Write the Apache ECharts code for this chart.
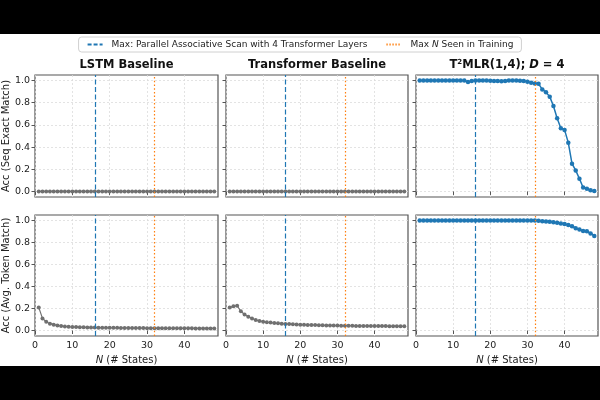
<!DOCTYPE html>
<html><head><meta charset="utf-8">
<script src="https://cdn.jsdelivr.net/npm/echarts@6/dist/echarts.min.js"></script>
<style>
body{margin:0;background:#000}
#c{width:600px;height:400px;background:linear-gradient(#000 0,#000 34px,#fff 34px,#fff 366px,#000 366px)}
</style>
</head><body><div id="c"></div>
<script>
// ---- data ----
const statesN = [1,2,3,4,5,6,7,8,9,10,11,12,13,14,15,16,17,18,19,20,21,22,23,24,25,26,27,28,29,30,31,32,33,34,35,36,37,38,39,40,41,42,43,44,45,46,47,48];
const lstmSeq = [0,0,0,0,0,0,0,0,0,0,0,0,0,0,0,0,0,0,0,0,0,0,0,0,0,0,0,0,0,0,0,0,0,0,0,0,0,0,0,0,0,0,0,0,0,0,0,0];
const transSeq = [0,0,0,0,0,0,0,0,0,0,0,0,0,0,0,0,0,0,0,0,0,0,0,0,0,0,0,0,0,0,0,0,0,0,0,0,0,0,0,0,0,0,0,0,0,0,0,0];
const t2mlrSeq = [1,1,1,1,1,1,1,1,1,1,1,1,1,0.988,0.995,1,1,1,1,0.998,0.995,0.995,0.993,0.995,1,1,1,0.998,0.995,0.99,0.98,0.973,0.97,0.92,0.895,0.855,0.77,0.66,0.57,0.555,0.44,0.25,0.19,0.115,0.035,0.025,0.01,0.003];
const lstmTok = [0.21,0.11,0.08,0.062,0.053,0.046,0.041,0.037,0.034,0.032,0.031,0.03,0.029,0.028,0.027,0.027,0.026,0.026,0.025,0.025,0.024,0.024,0.023,0.023,0.023,0.022,0.022,0.022,0.022,0.021,0.021,0.021,0.021,0.021,0.02,0.02,0.02,0.02,0.02,0.02,0.02,0.02,0.019,0.019,0.019,0.019,0.019,0.019];
const transTok = [0.21,0.22,0.225,0.175,0.145,0.125,0.11,0.095,0.087,0.08,0.075,0.072,0.068,0.065,0.062,0.06,0.058,0.056,0.055,0.053,0.052,0.051,0.05,0.049,0.048,0.047,0.046,0.046,0.045,0.045,0.044,0.044,0.043,0.043,0.042,0.042,0.042,0.041,0.041,0.041,0.04,0.04,0.04,0.039,0.039,0.039,0.038,0.038];
const t2mlrTok = [1,1,1,1,1,1,1,1,1,1,1,1,1,1,1,1,1,1,1,1,1,1,1,1,1,1,1,1,1,1,1,1,0.997,0.994,0.991,0.988,0.983,0.979,0.973,0.968,0.96,0.948,0.93,0.918,0.905,0.902,0.882,0.86];
const panelTitles = ['LSTM Baseline','Transformer Baseline','T{sup|2}MLR(1,4); {it|D} = 4'];
const rowNames = ['Acc (Seq Exact Match)','Acc (Avg. Token Match)'];
const xTicks = [0,10,20,30,40];
const yTicks = [0,0.2,0.4,0.6,0.8,1.0];
const scanMaxN = 16, trainMaxN = 32;
const nameScan = 'Max: Parallel Associative Scan with 4 Transformer Layers';
const nameTrain = 'Max N Seen in Training';

// ---- layout ----
const FONT = 'DejaVu Sans';
const colLeft = [35, 226, 416], colW = [183, 182, 182];
const rowTop = [75, 215], rowH = [122, 121];
const panels = [
  {vals: lstmSeq, color: '#707070'}, {vals: transSeq, color: '#707070'}, {vals: t2mlrSeq, color: '#1f77b4'},
  {vals: lstmTok, color: '#707070'}, {vals: transTok, color: '#707070'}, {vals: t2mlrTok, color: '#1f77b4'}
];
const grid = [], xAxis = [], yAxis = [], series = [];
panels.forEach((p, i) => {
  const r = Math.floor(i / 3), c = i % 3;
  grid.push({left: colLeft[c], top: rowTop[r], width: colW[c], height: rowH[r], show: true,
    borderColor: '#555', borderWidth: 1.2, backgroundColor: 'transparent', containLabel: false});
  xAxis.push({gridIndex: i, type: 'value', min: 0, max: 49,
    axisLine: {show: false},
    axisTick: {show: true, length: 3.5, lineStyle: {color: '#555', width: 1}, customValues: xTicks},
    axisLabel: {show: r === 1, customValues: xTicks, fontFamily: FONT, fontSize: 9.5, color: '#222', margin: 5},
    splitLine: {show: true, lineStyle: {color: '#dcdcdc', type: [2, 2], width: 0.8}},
    name: r === 1 ? '{i|N} (# States)' : '', nameLocation: 'middle', nameGap: 19,
    nameTextStyle: {fontFamily: FONT, fontSize: 10, color: '#222', rich: {i: {fontStyle: 'italic', fontFamily: FONT, fontSize: 10, color: '#222'}}}
  });
  yAxis.push({gridIndex: i, type: 'value', min: -0.05, max: 1.05,
    axisLine: {show: false},
    axisTick: {show: true, length: 3.5, lineStyle: {color: '#555', width: 1}, customValues: yTicks},
    axisLabel: {show: c === 0, customValues: yTicks, formatter: v => v.toFixed(1), fontFamily: FONT, fontSize: 9.5, color: '#222', margin: 5},
    splitLine: {show: true, lineStyle: {color: '#dcdcdc', type: [2, 2], width: 0.8}},
    name: c === 0 ? rowNames[r] : '', nameLocation: 'middle', nameRotate: 90, nameGap: 20,
    nameTextStyle: {fontFamily: FONT, fontSize: 10, color: '#222'}
  });
  series.push({type: 'line', xAxisIndex: i, yAxisIndex: i, z: 3,
    data: statesN.map((n, k) => [n, p.vals[k]]),
    symbol: 'circle', symbolSize: p.color === '#1f77b4' ? 4.5 : 4,
    itemStyle: {color: p.color}, lineStyle: {color: p.color, width: p.color === '#1f77b4' ? 1.5 : 1.2}
  });
  series.push({name: nameScan, type: 'line', xAxisIndex: i, yAxisIndex: i, data: [], symbol: 'none',
    itemStyle: {color: '#1f77b4', opacity: 0}, lineStyle: {color: '#1f77b4', type: [4, 2], width: 1.3},
    markLine: {silent: true, symbol: 'none', label: {show: false}, animation: false,
      lineStyle: {color: '#1f77b4', type: [5, 2.5], width: 1.2, opacity: 1}, data: [{xAxis: scanMaxN}]}
  });
  series.push({name: nameTrain, type: 'line', xAxisIndex: i, yAxisIndex: i, data: [], symbol: 'none',
    itemStyle: {color: '#ff7f0e', opacity: 0}, lineStyle: {color: '#ff7f0e', type: [1.3, 1.7], width: 1.3},
    markLine: {silent: true, symbol: 'none', label: {show: false}, animation: false,
      lineStyle: {color: '#ff7f0e', type: [1.5, 2.2], width: 1.2, opacity: 1}, data: [{xAxis: trainMaxN}]}
  });
});

const titles = panelTitles.map((t, c) => ({
  text: t, left: colLeft[c] + colW[c] / 2, top: 59, textAlign: 'center', padding: 0,
  textStyle: {fontFamily: FONT, fontSize: 11.5, fontWeight: 'bold', color: '#111',
    rich: {sup: {fontFamily: FONT, fontSize: 7, fontWeight: 'bold', color: '#111', verticalAlign: 'top'},
           it: {fontFamily: FONT, fontSize: 11.5, fontStyle: 'italic', fontWeight: 'bold', color: '#111'}}}
}));

const chart = echarts.init(document.getElementById('c'), null, {renderer: 'canvas'});
chart.setOption({
  animation: false,
  backgroundColor: 'transparent',
  title: titles,
  legend: {data: [nameScan, nameTrain], left: 'center', top: 37, padding: [3, 8],
    itemWidth: 15, itemHeight: 10, itemGap: 18,
    borderColor: '#d0d0d0', borderWidth: 1, borderRadius: 3, backgroundColor: '#fff',
    formatter: n => n === nameTrain ? 'Max {i|N} Seen in Training' : n,
    textStyle: {fontFamily: FONT, fontSize: 9, color: '#222', padding: [0, 0, 0, 4],
      rich: {i: {fontFamily: FONT, fontSize: 9, fontStyle: 'italic', color: '#222'}}}
  },
  grid, xAxis, yAxis, series
});
</script>
</body></html>
